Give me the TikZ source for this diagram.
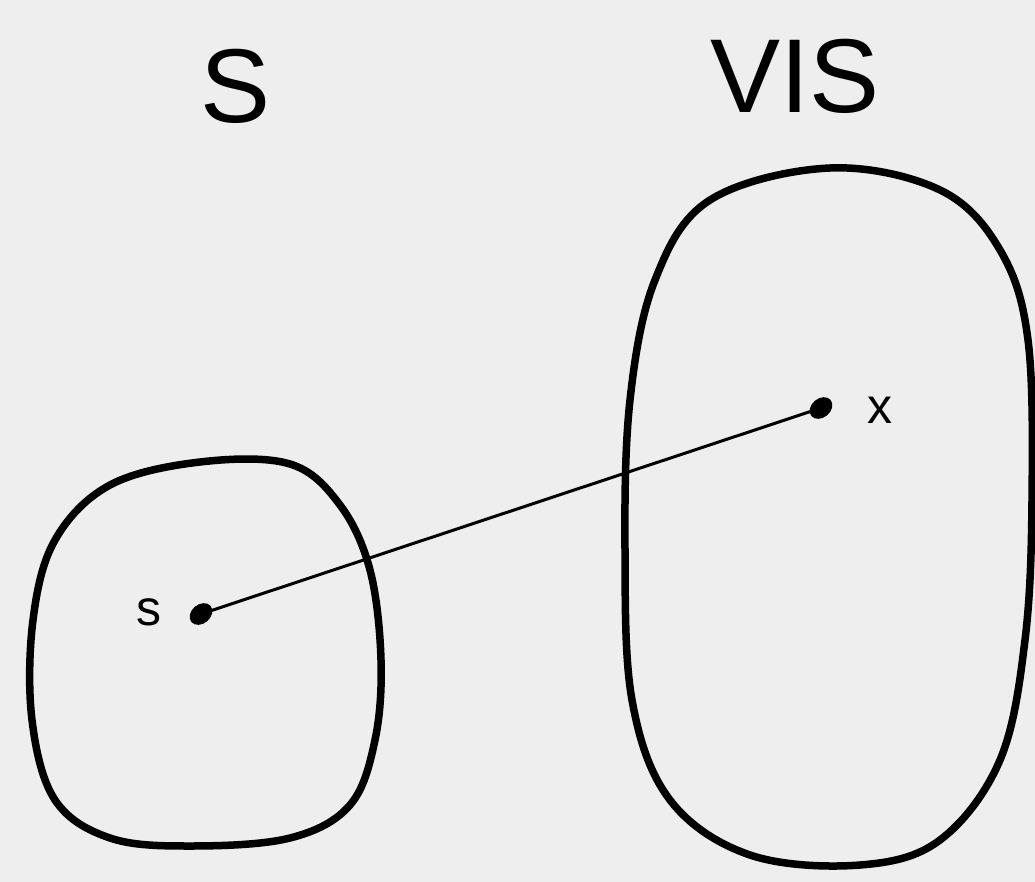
\documentclass[tikz,border=0pt]{standalone}
\usepackage{fontspec}
\setmainfont{Liberation Sans}
\usetikzlibrary{shapes.geometric}
\begin{document}
\begin{tikzpicture}[x=1pt,y=-1pt,
  blob/.style={line width=7.5pt,line join=round},
  dotnode/.style={ellipse,fill=black,inner sep=0pt,minimum width=25pt,minimum height=19pt,rotate=40},
  biglabel/.style={font=\fontsize{105}{110}\selectfont,inner sep=0pt},
  smalllabel/.style={font=\fontsize{50}{52}\selectfont,inner sep=0pt}]
\path[use as bounding box,fill={rgb,255:red,238;green,238;blue,238}] (0,0) rectangle (1035,882);
% left region
\draw[blob] plot[smooth cycle,tension=0.6] coordinates {
 (200,462) (290,464) (340,505) (370,570) (381,660) (375,740) (350,805) (290,838)
 (190,846) (110,838) (55,800) (32,720) (33,620) (55,540) (110,485)};
% right region
\draw[blob] plot[smooth cycle,tension=0.6] coordinates {
 (830,168) (940,190) (1000,250) (1028,340) (1032,500) (1025,640) (1000,760) (940,840)
 (860,865) (750,855) (670,800) (632,700) (625,550) (630,400) (655,280) (710,200)};
% dots
\node[dotnode] (s) at (201,614) {};
\node[dotnode] (x) at (821,408) {};
\draw[line width=3pt] (s.center) -- (x.center);
% labels
\node[biglabel] (S) at (236,86) {S};
\node[biglabel] (VIS) at (795,76) {VIS};
\node[smalllabel] (sl) at (149,612) {s};
\node[smalllabel] (xl) at (880,410) {x};
\end{tikzpicture}
\end{document}
